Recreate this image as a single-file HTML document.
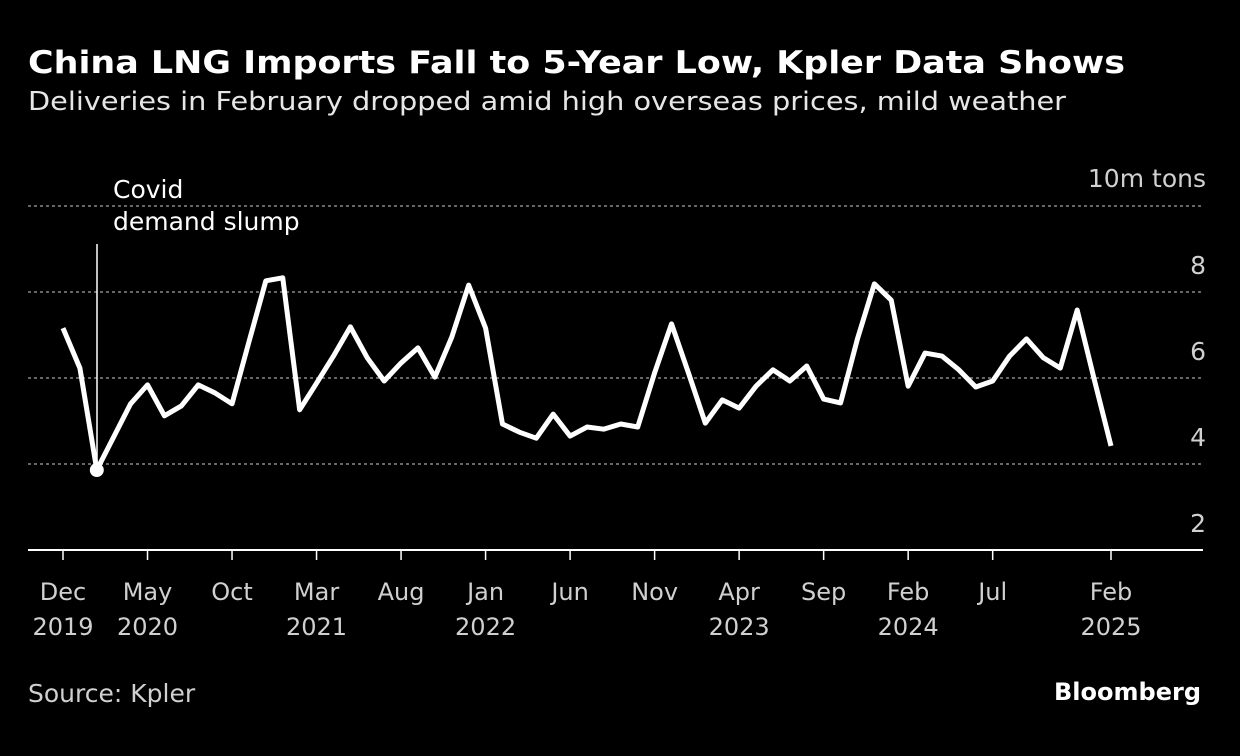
<!DOCTYPE html>
<html><head><meta charset="utf-8"><style>
body{margin:0;background:#000;width:1240px;height:752px;overflow:hidden;font-family:"DejaVu Sans","Liberation Sans",sans-serif;color:#fff}
svg text{font-family:"DejaVu Sans","Liberation Sans",sans-serif}
</style></head><body>
<svg width="1240" height="752" xmlns="http://www.w3.org/2000/svg">
<text x="28" y="73" font-size="31" font-weight="bold" fill="#fff" textLength="1097" lengthAdjust="spacingAndGlyphs">China LNG Imports Fall to 5-Year Low, Kpler Data Shows</text>
<text x="28" y="110" font-size="26" fill="#e6e6e6" textLength="1038" lengthAdjust="spacingAndGlyphs">Deliveries in February dropped amid high overseas prices, mild weather</text>
<text x="1206" y="187" font-size="25" fill="#d0d0d0" text-anchor="end">10m tons</text>
<g id="grid"></g><g id="xaxis"></g>
<line x1="97" y1="244" x2="97" y2="470" stroke="#fff" stroke-width="1.5"/>
<text font-size="25" fill="#fff"><tspan x="113" y="198">Covid</tspan><tspan x="113" y="230">demand slump</tspan></text>
<path id="line" fill="none" stroke="#fff" stroke-width="5" stroke-linejoin="round"/>
<circle id="dot" r="7" fill="#fff"/>
<text x="28" y="702" font-size="25" fill="#d0d0d0">Source: Kpler</text>
<text x="1201" y="700" font-size="24" font-weight="bold" fill="#fff" text-anchor="end">Bloomberg</text>
</svg>
<script>
const values=[7.16,6.23,3.86,4.63,5.4,5.84,5.12,5.35,5.84,5.65,5.4,6.84,8.26,8.33,5.26,5.88,6.51,7.19,6.47,5.93,6.35,6.7,6.02,6.95,8.16,7.16,4.93,4.74,4.6,5.16,4.65,4.86,4.81,4.93,4.86,6.12,7.26,6.12,4.95,5.49,5.3,5.81,6.19,5.93,6.28,5.51,5.42,6.91,8.19,7.81,5.81,6.58,6.51,6.19,5.79,5.93,6.51,6.91,6.47,6.23,7.58,5.98,4.42];
const yTicks=[2,4,6,8,10];
const xTickMonths=[0,5,10,15,20,25,30,35,40,45,50,55,62];
const xTickLabels=[["Dec","2019"],["May","2020"],["Oct",""],["Mar","2021"],["Aug",""],["Jan","2022"],["Jun",""],["Nov",""],["Apr","2023"],["Sep",""],["Feb","2024"],["Jul",""],["Feb","2025"]];
const covidIndex=2;
const NS="http://www.w3.org/2000/svg";
const x=i=>63+i*(1111-63)/62;
const y=v=>550-(v-2)*43;
function mk(tag,attrs,parent){const e=document.createElementNS(NS,tag);for(const k in attrs)e.setAttribute(k,attrs[k]);parent.appendChild(e);return e;}
const grid=document.getElementById('grid');
yTicks.forEach(t=>{
  const l=mk('line',{x1:28,x2:1203,y1:y(t),y2:y(t),stroke:t===2?'#fff':'#888','stroke-width':t===2?2:1.5,'stroke-dasharray':t===2?'':'3,3'},grid);
  
  
  if(t<10){const tx=mk('text',{x:1206,y:y(t)-18,'font-size':25,fill:'#d0d0d0','text-anchor':'end'},grid);tx.textContent=t;
  
  }
});
const xa=document.getElementById('xaxis');
xTickMonths.forEach((m,i)=>{
  const l=mk('line',{x1:x(m),x2:x(m),y1:550,y2:560,stroke:'#fff','stroke-width':1.5},xa);
  
  
  const t=mk('text',{x:x(m),'font-size':24,fill:'#d0d0d0','text-anchor':'middle'},xa);
  
  
  const a=mk('tspan',{x:x(m),y:600},t);a.textContent=xTickLabels[i][0];
  const b=mk('tspan',{x:x(m),y:635},t);b.textContent=xTickLabels[i][1];
});
document.getElementById('line').setAttribute('d',values.map((v,i)=>(i?'L':'M')+x(i)+','+y(v)).join(''));
const d=document.getElementById('dot');d.setAttribute('cx',x(covidIndex));d.setAttribute('cy',y(values[covidIndex]));
</script>
</body></html>
